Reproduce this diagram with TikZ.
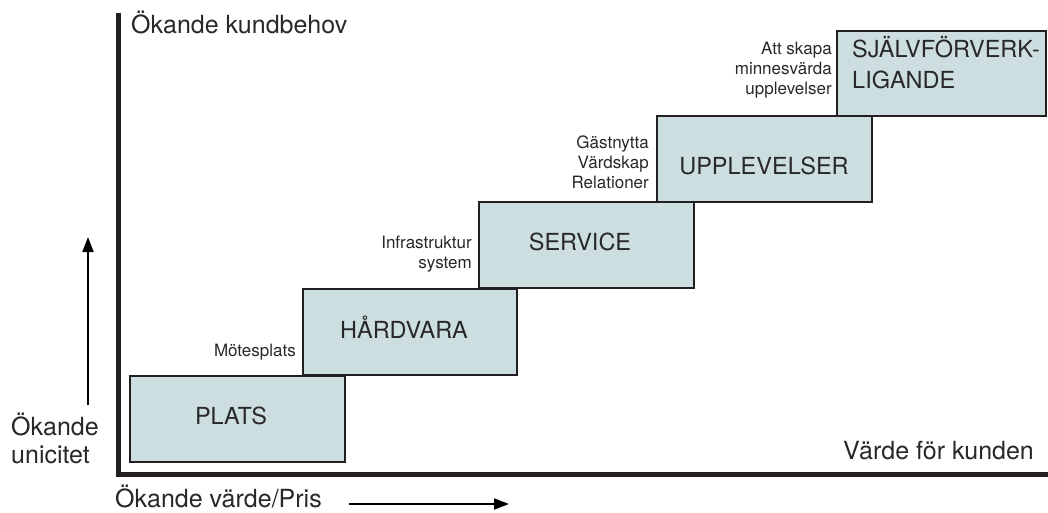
\documentclass[tikz,border=0pt]{standalone}
\usepackage{fontspec}
\setmainfont{TeX Gyre Heros}
\usetikzlibrary{arrows.meta}
\definecolor{stepfill}{RGB}{205,222,225}
\definecolor{edge}{RGB}{35,31,32}
\definecolor{ink}{RGB}{40,40,40}
\tikzset{
  stepbox/.style={draw=edge, line width=2.8pt, fill=stepfill, rectangle},
  title/.style={text=ink, font=\fontsize{23.5}{31}\selectfont, inner sep=0pt, anchor=base},
  note/.style={text=ink, font=\fontsize{17}{20}\selectfont, inner sep=0pt, align=right, anchor=base east},
  axislabel/.style={text=ink, font=\fontsize{25}{28}\selectfont, inner sep=0pt, anchor=base west},
  axisline/.style={draw=edge, line width=5pt},
  pointer/.style={draw=black, line width=2pt, -{Triangle[length=15pt,width=11pt]}}
}
\begin{document}
\begin{tikzpicture}[x=1pt,y=-1pt]
\useasboundingbox (0,0) rectangle (1048,512);

% the five steps
\node[stepbox, minimum width=215pt, minimum height=86pt] (plats) at (237.5,419) {};
\node[stepbox, minimum width=214pt, minimum height=86pt] (hardvara) at (410,332) {};
\node[stepbox, minimum width=215pt, minimum height=86pt] (service) at (586.5,245) {};
\node[stepbox, minimum width=215pt, minimum height=86pt] (upplevelser) at (764.5,159) {};
\node[stepbox, minimum width=209pt, minimum height=85pt] (sjalv) at (941.5,73.5) {};

% step titles (multi-line nodes sit on the baseline of their last line)
\node[title] (t1) at (231,424) {PLATS};
\node[title] (t2) at (404,338) {HÅRDVARA};
\node[title] (t3) at (580,250) {SERVICE};
\node[title] (t4) at (764,174) {UPPLEVELSER};
\node[title, anchor=base west, align=left] (t5) at (852,88) {SJÄLVFÖRVERK-\\LIGANDE};

% notes beside the steps
\node[note] (n1) at (296,356) {Mötesplats};
\node[note] (n2) at (472,268) {Infrastruktur\\system};
\node[note] (n3) at (649,188) {Gästnytta\\Värdskap\\Relationer};
\node[note] (n4) at (832,94) {Att skapa\\minnesvärda\\upplevelser};

% axes
\coordinate (ytop) at (118,13);
\coordinate (origin) at (118,474);
\coordinate (xend) at (1048,474);
\draw[axisline] (ytop) -- (origin) -- (xend);

% axis texts
\node[axislabel] (ylab) at (131,33) {Ökande kundbehov};
\node[axislabel] (xlab) at (843,459) {Värde för kunden};
\node[axislabel] (pris) at (115,507) {Ökande värde/Pris};
\node[axislabel, align=left] (unik) at (11,463) {Ökande\\unicitet};

% direction arrows
\coordinate (a1) at (349,504);
\coordinate (a2) at (509,504);
\draw[pointer] (a1) -- (a2);
\coordinate (b1) at (88,405);
\coordinate (b2) at (88,237);
\draw[pointer] (b1) -- (b2);
\end{tikzpicture}
\end{document}
